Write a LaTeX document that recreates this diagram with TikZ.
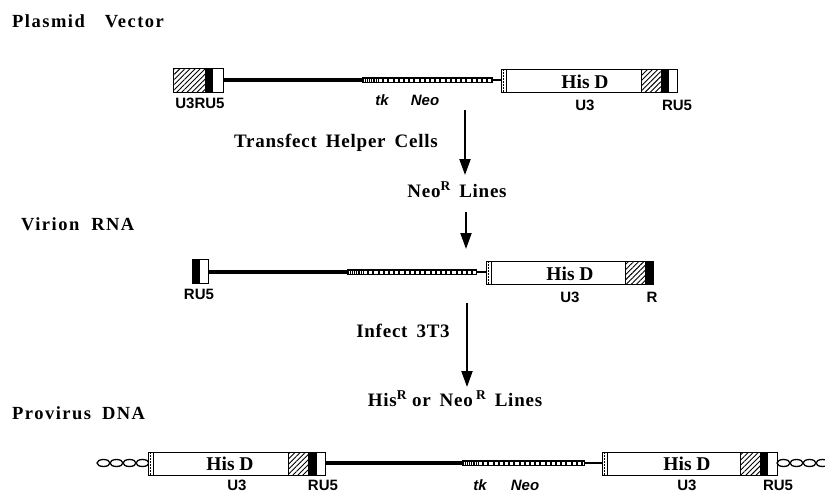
\documentclass[tikz,border=0pt]{standalone}
\usepackage{fontspec}
\setmainfont{Liberation Serif}
\newfontfamily\titf[LetterSpace=8]{Liberation Serif}
\newfontfamily\capf[LetterSpace=4]{Liberation Serif}
\newfontfamily\labf{Liberation Sans}
\usetikzlibrary{arrows.meta,patterns.meta}

\tikzset{
  x=1pt,y=-1pt,
  caption/.style={font=\capf\bfseries\fontsize{19}{21}\selectfont, inner sep=0pt},
  title/.style={font=\titf\bfseries\fontsize{18.5}{20}\selectfont, inner sep=0pt, anchor=base west},
  lab/.style={font=\labf\bfseries\fontsize{15}{17}\selectfont, inner sep=0pt},
  ilab/.style={font=\labf\bfseries\itshape\fontsize{15}{17}\selectfont, inner sep=0pt},
  gene/.style={font=\bfseries\fontsize{19.5}{21}\selectfont, inner sep=0pt},
  hatch/.style={pattern={Lines[angle=45,distance=3.6pt,line width=0.9pt]}},
  outline/.style={draw, line width=1pt},
  dna/.style={line width=3.5pt},
  thindna/.style={line width=2pt},
  flow/.style={line width=2pt, -{Triangle[width=11pt,length=16pt]}},
  oval/.style={line width=1.3pt},
}
\newcommand{\wgap}{\hspace{9pt}}
\newcommand{\supR}{\raisebox{7pt}{\fontsize{13.5}{13.5}\selectfont R}}
% beads: x1 x2 y
\newcommand{\mkbeads}[3]{%
  \draw[line width=6pt] (#1,#3) -- (#2,#3);
  \draw[white, line width=3pt, dash pattern=on 1pt off 1.2pt] (#1+1.5,#3) -- (#1+15,#3);
  \draw[white, line width=3pt, dash pattern=on 3.2pt off 2pt] (#1+17,#3) -- (#2-1.5,#3);
}
% gene box: x1 xh1 xh2 xb2 x2 ytop ybot
\newcommand{\mkgene}[7]{%
  \fill[white] (#1,#6) rectangle (#5,#7);
  \fill[hatch] (#2,#6) rectangle (#3,#7);
  \fill[black] (#3,#6) rectangle (#4,#7);
  \draw[outline] (#1,#6) rectangle (#5,#7);
  \draw[line width=0.8pt] (#1+5,#6) -- (#1+5,#7);
  \draw[line width=1pt, dash pattern=on 1.5pt off 1.5pt] (#1+2.6,#6) -- (#1+2.6,#7);
  \draw[line width=0.8pt] (#2,#6) -- (#2,#7);
}
% oval chain: x0 y n
\newcommand{\mkovals}[3]{%
  \foreach \i in {1,...,#3} {
    \draw[oval] (#1+6.5+13*\i-13,#2) ellipse [x radius=6.5pt, y radius=3.5pt];
  }
}

\begin{document}
\begin{tikzpicture}
\useasboundingbox (0,0) rectangle (825,493);
\begin{scope}
\clip (0,0) rectangle (825,493);

% ---------- titles ----------
\node[title] (tplasmid) at (12,27) {Plasmid\hspace{20pt}Vector};
\node[title] (tvirion) at (21,230) {Virion\hspace{12pt}RNA};
\node[title] (tprovirus) at (12,419) {Provirus\hspace{11pt}DNA};

% ---------- plasmid vector row (y 68..92, mid 80) ----------
\draw[dna] (223,80) -- (363,80);
\mkbeads{362}{493}{80}
\draw[thindna] (492,80) -- (501,80);
% left LTR
\fill[hatch] (173,68) rectangle (205,92);
\fill[black] (205,68) rectangle (213,92);
\draw[outline] (173,68) rectangle (223,92);
% right block
\mkgene{501}{641}{661}{669}{677}{69}{92}
\node[gene] (hisd1) at (585,82) {His D};
\node[lab] (u3ru5a) at (200,103) {U3RU5};
\node[ilab] (tk1) at (382,100) {tk};
\node[ilab] (neo1) at (425,100) {Neo};
\node[lab] (u3a) at (585,105) {U3};
\node[lab] (ru5a) at (677,105) {RU5};

% ---------- captions and arrows ----------
\node[caption] (transf) at (336,143) {Transfect\wgap Helper\wgap Cells};
\node[caption] (neoR) at (457,190) {Neo\supR\wgap Lines};
\node[caption] (infect) at (403,331) {Infect\wgap 3T3};
\node[caption] (hisneoR) at (455,399) {His\supR\ or\wgap Neo\,\supR\wgap Lines};

\coordinate (a1s) at (465,110);
\coordinate (a1e) at (465,175);
\coordinate (a2s) at (466,212);
\coordinate (a2e) at (466,249);
\coordinate (a3s) at (467,303);
\coordinate (a3e) at (467,387);
\draw[flow] (a1s) -- (a1e);
\draw[flow] (a2s) -- (a2e);
\draw[flow] (a3s) -- (a3e);

% ---------- virion RNA row (mid 272) ----------
\draw[dna] (208,272) -- (348,272);
\mkbeads{347}{477}{272}
\draw[thindna] (476,272) -- (486,272);
\fill[black] (192,259) rectangle (200,283);
\draw[outline] (192,259) rectangle (208,283);
\mkgene{486}{625}{645}{653}{653}{261}{284}
\node[gene] (hisd2) at (570,274) {His D};
\node[lab] (ru5b) at (199,294) {RU5};
\node[lab] (u3b) at (570,297) {U3};
\node[lab] (rb) at (652,297) {R};

% ---------- provirus DNA row (mid 463) ----------
\mkovals{97}{463}{4}
\draw[dna] (325,463) -- (463,463);
\mkbeads{462}{585}{463}
\draw[thindna] (584,463) -- (602,463);
\mkgene{148}{288}{308}{317}{325}{452}{475}
\mkgene{602}{740}{760}{768}{777}{452}{475}
\mkovals{777}{463}{4}
\node[gene] (hisd3) at (230,464) {His D};
\node[gene] (hisd4) at (687,464) {His D};
\node[lab] (u3c) at (237,485) {U3};
\node[lab] (ru5c) at (323,485) {RU5};
\node[ilab] (tk2) at (480,485) {tk};
\node[ilab] (neo2) at (525,485) {Neo};
\node[lab] (u3d) at (687,485) {U3};
\node[lab] (ru5d) at (778,485) {RU5};
\end{scope}
\end{tikzpicture}
\end{document}
